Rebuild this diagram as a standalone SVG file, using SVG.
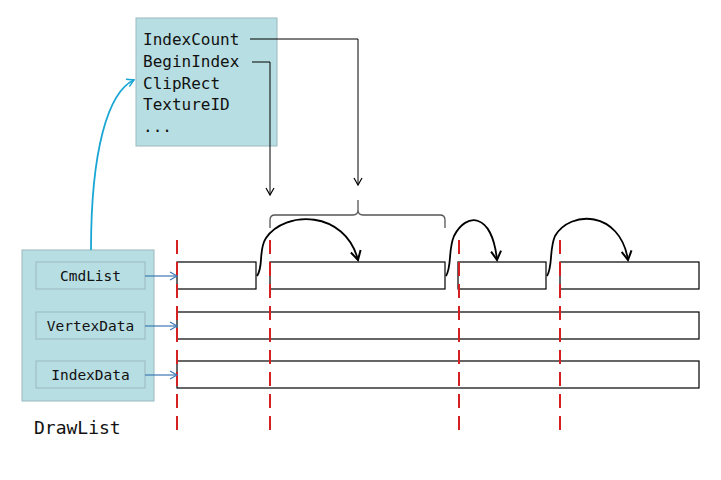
<svg xmlns="http://www.w3.org/2000/svg" width="721" height="480" viewBox="0 0 721 480">
<style>
.box{fill:#b7dee2;stroke:#9ab9bd;stroke-width:1}
.t{font-family:"DejaVu Sans Mono","Liberation Mono",monospace;font-size:16px;fill:#111}
.ti{font-family:"DejaVu Sans Mono","Liberation Mono",monospace;font-size:14.5px;fill:#111;text-anchor:middle}
.buf{fill:#fff;stroke:#000;stroke-width:1.2}
.red{stroke:#d42020;stroke-width:2;stroke-dasharray:14 8;fill:none}
.blk{stroke:#000;stroke-width:1;fill:none}
.arc{stroke:#000;stroke-width:1.8;fill:none}
.blu{stroke:#3c78b4;stroke-width:1.2;fill:none}
</style>
<defs>
<marker id="ah" markerWidth="10" markerHeight="10" refX="8" refY="5" orient="auto" markerUnits="userSpaceOnUse"><path d="M1,1 L8,5 L1,9" fill="none" stroke="#000" stroke-width="1.2"/></marker>
<marker id="ahb" markerWidth="12" markerHeight="12" refX="10" refY="6" orient="auto" markerUnits="userSpaceOnUse"><path d="M1,1 L10,6 L1,11" fill="none" stroke="#000" stroke-width="2"/></marker>
<marker id="ahs" markerWidth="10" markerHeight="10" refX="8" refY="5" orient="auto" markerUnits="userSpaceOnUse"><path d="M1,1 L8,5 L1,9" fill="none" stroke="#3c78b4" stroke-width="1.2"/></marker>
<marker id="ahc" markerWidth="10" markerHeight="10" refX="8" refY="5" orient="auto" markerUnits="userSpaceOnUse"><path d="M1,1 L8,5 L1,9" fill="none" stroke="#1aa6d4" stroke-width="1.5"/></marker>
</defs>
<rect width="721" height="480" fill="#fff"/>
<g id="drawcmd">
<rect class="box" x="136" y="18" width="141" height="128"/>
<text class="t" x="143" y="45">IndexCount</text>
<text class="t" x="143" y="67">BeginIndex</text>
<text class="t" x="143" y="89">ClipRect</text>
<text class="t" x="143" y="110">TextureID</text>
<text class="t" x="143" y="132">...</text>
</g>
<g id="drawlist">
<rect class="box" x="22" y="250" width="132" height="151"/>
<rect class="box" x="36" y="262" width="109" height="27"/>
<text class="ti" x="90.5" y="281">CmdList</text>
<rect class="box" x="36" y="312" width="109" height="27"/>
<text class="ti" x="90.5" y="331">VertexData</text>
<rect class="box" x="36" y="361" width="109" height="27"/>
<text class="ti" x="90.5" y="380">IndexData</text>
<text class="t" x="34" y="434" style="font-size:18px">DrawList</text>
</g>
<g id="buffers">
<rect class="buf" x="177" y="262" width="79" height="27"/>
<rect class="buf" x="270" y="262" width="175" height="27"/>
<rect class="buf" x="458" y="262" width="88" height="27"/>
<rect class="buf" x="560" y="262" width="139" height="27"/>
<rect class="buf" x="177" y="312" width="522" height="27"/>
<rect class="buf" x="177" y="361" width="522" height="27"/>
</g>
<g id="dividers">
<line class="red" x1="177" y1="240" x2="177" y2="434"/>
<line class="red" x1="270" y1="240" x2="270" y2="434"/>
<line class="red" x1="459" y1="240" x2="459" y2="434"/>
<line class="red" x1="560" y1="240" x2="560" y2="434"/>
</g>
<g id="connectors">
<path class="blk" d="M250,39 H358 V185" marker-end="url(#ah)"/>
<path class="blk" d="M252,62 H270 V195" marker-end="url(#ah)"/>
<path d="M270,228 V220 Q270,215 275,215 H353 Q358,215 358,210 V200 M358,210 Q358,215 363,215 H440 Q445,215 445,220 V228" fill="none" stroke="#555" stroke-width="1.3"/>
<path class="arc" d="M257,276 C264,266 258,250 266,238 C285,210 345,210 358,260" marker-end="url(#ahb)"/>
<path class="arc" d="M446,276 C452,266 448,250 454,236 C466,212 492,212 497,260" marker-end="url(#ahb)"/>
<path class="arc" d="M547,276 C553,266 549,250 555,236 C570,210 620,210 628,260" marker-end="url(#ahb)"/>
<path d="M91,250 C91,150 108,92 134,80" fill="none" stroke="#1aa6d4" stroke-width="1.8" marker-end="url(#ahc)"/>
<line class="blu" x1="145" y1="276" x2="177" y2="276" marker-end="url(#ahs)"/>
<line class="blu" x1="145" y1="326" x2="177" y2="326" marker-end="url(#ahs)"/>
<line class="blu" x1="145" y1="375" x2="177" y2="375" marker-end="url(#ahs)"/>
</g>
</svg>
